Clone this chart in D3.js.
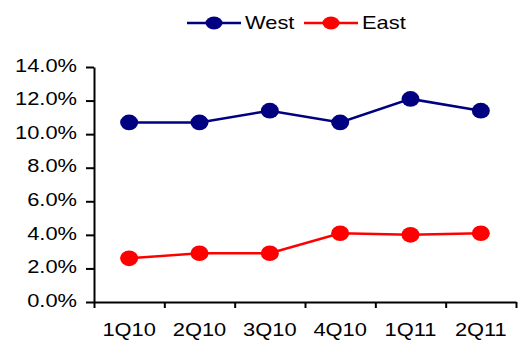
<!DOCTYPE html>
<html>
<head>
<meta charset="utf-8">
<script src="https://cdn.jsdelivr.net/npm/d3@7"></script>
<style>
  html, body { margin: 0; padding: 0; background: #fff; }
  svg { display: block; }
  text { font-family: "Liberation Sans", Arial, sans-serif; fill: #000; }
</style>
</head>
<body>
<svg id="chart" width="520" height="341"></svg>
<script>
// Quarterly values (percent) for each region
const categories = ["1Q10", "2Q10", "3Q10", "4Q10", "1Q11", "2Q11"];
const westValues = [10.7, 10.7, 11.4, 10.7, 12.1, 11.4];
const eastValues = [2.6, 2.9, 2.9, 4.1, 4.0, 4.1];
const yTicks = [0, 2, 4, 6, 8, 10, 12, 14];
const seriesNames = ["West", "East"];
const seriesColors = ["#000080", "#ff0000"];

const svg = d3.select("#chart");
const plotLeft = 94, plotRight = 516, plotTop = 67, plotBottom = 302;
const fontSize = 19;
const stretch = 1.15;

const x = d3.scaleBand().domain(categories).range([plotLeft, plotRight]);
const xEdge = d3.scaleLinear().domain([0, categories.length]).range([plotLeft, plotRight]);
const y = d3.scaleLinear().domain([0, 14]).range([plotBottom, plotTop]);

// Y axis
const yAxis = svg.append("g")
  .attr("transform", `translate(${plotLeft},0)`)
  .call(d3.axisLeft(y).tickValues(yTicks).tickFormat(d => d.toFixed(1) + "%")
    .tickSize(8).tickSizeOuter(0).tickPadding(9));
yAxis.selectAll("text").attr("dy", "0.22em");

// X axis: ticks on category boundaries
svg.append("g")
  .attr("transform", `translate(0,${plotBottom})`)
  .call(d3.axisBottom(xEdge).tickValues(d3.range(categories.length + 1))
    .tickFormat("").tickSize(6).tickSizeOuter(0));

// X axis labels centred in each band
const xLabels = svg.append("g")
  .attr("transform", `translate(0,${plotBottom})`)
  .call(d3.axisBottom(x).tickSize(0).tickPadding(21));
xLabels.select(".domain").remove();

svg.selectAll(".domain, .tick line").attr("stroke", "#000").attr("stroke-width", 2);
svg.selectAll(".tick text").attr("font-size", fontSize).attr("font-family", null);

// Series lines and markers
const series = [westValues, eastValues];
const line = d3.line()
  .x((d, i) => x(categories[i]) + x.bandwidth() / 2)
  .y(d => y(d));

series.forEach((vals, s) => {
  const g = svg.append("g");
  g.append("path")
    .datum(vals)
    .attr("d", line)
    .attr("fill", "none")
    .attr("stroke", seriesColors[s])
    .attr("stroke-width", 2.5);
  g.selectAll("ellipse")
    .data(vals)
    .join("ellipse")
    .attr("cx", (d, i) => x(categories[i]) + x.bandwidth() / 2)
    .attr("cy", d => y(d))
    .attr("rx", 9)
    .attr("ry", 7.8)
    .attr("fill", seriesColors[s]);
});

// Legend
const legendItems = [
  { name: seriesNames[0], color: seriesColors[0], x0: 187 },
  { name: seriesNames[1], color: seriesColors[1], x0: 304 }
];
const legendY = 23;
legendItems.forEach(item => {
  const g = svg.append("g");
  g.append("line")
    .attr("x1", item.x0).attr("x2", item.x0 + 54)
    .attr("y1", legendY).attr("y2", legendY)
    .attr("stroke", item.color).attr("stroke-width", 2.5);
  g.append("ellipse")
    .attr("cx", item.x0 + 27).attr("cy", legendY)
    .attr("rx", 8.5).attr("ry", 6.5)
    .attr("fill", item.color);
  g.append("text")
    .attr("x", item.x0 + 58).attr("y", legendY + 6)
    .attr("font-size", fontSize)
    .text(item.name);
});

// Widen all labels slightly
svg.selectAll("text").each(function () {
  const len = this.getComputedTextLength();
  d3.select(this).attr("textLength", len * stretch).attr("lengthAdjust", "spacingAndGlyphs");
});
</script>
</body>
</html>
